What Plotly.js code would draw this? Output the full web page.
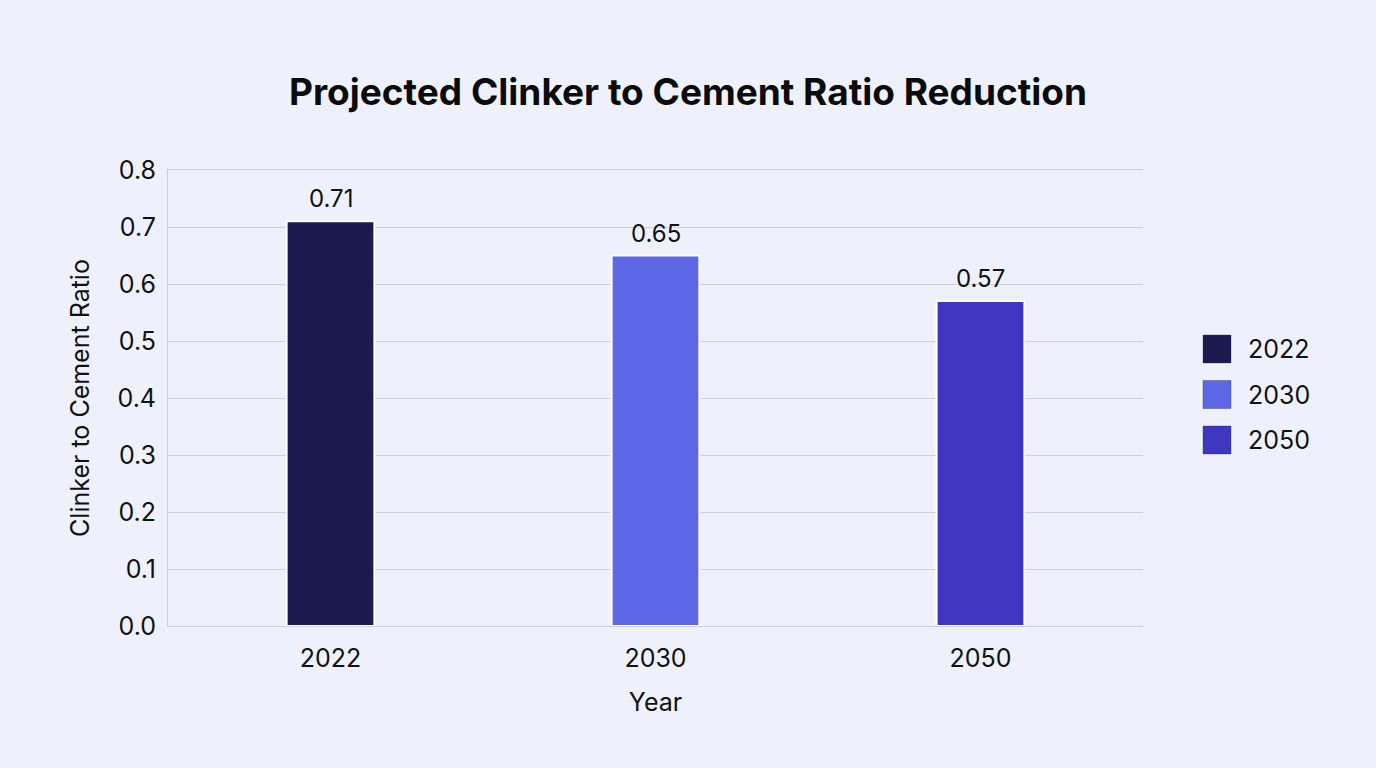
<!DOCTYPE html>
<html>
<head>
<meta charset="utf-8">
<script src="https://cdn.plot.ly/plotly-3.0.1.min.js"></script>
<style>
  html, body { margin: 0; padding: 0; background: #eef1fb; }
  #chart { width: 1376px; height: 768px; }
</style>
</head>
<body>
<div id="chart"></div>
<script>
// Clinker-to-cement ratio by year
const years = ['2022', '2030', '2050'];
const ratios = [0.71, 0.65, 0.57];
const barColors = ['#1c1b50', '#5e67e6', '#4136c2'];

const font = 'Inter, "Noto Sans", Roboto, sans-serif';
const W = 1376, H = 768;
const lineColor = '#cdd1dd';

const traces = years.map((yr, i) => ({
  type: 'bar',
  name: yr,
  x: [yr],
  y: [ratios[i]],
  width: 0.27,
  marker: { color: barColors[i], line: { color: '#ffffff', width: 2 } },
  showlegend: false,
  hoverinfo: 'x+y'
}));

// Value labels above each bar (category index positions)
const valueLabels = years.map((yr, i) => ({
  x: i, y: ratios[i], xref: 'x', yref: 'y',
  text: ratios[i].toFixed(2),
  showarrow: false,
  yanchor: 'bottom',
  yshift: 6,
  font: { size: 24, color: '#111111', family: font }
}));

const layout = {
  width: W,
  height: H,
  paper_bgcolor: '#eef1fb',
  plot_bgcolor: '#eef1fb',
  barmode: 'overlay',
  font: { family: font, color: '#111111' },
  title: {
    text: '<b>Projected Clinker to Cement Ratio Reduction</b>',
    x: 0.5, xanchor: 'center',
    y: 0.88, yanchor: 'middle',
    font: { size: 37, family: font, color: '#0b0b0b' }
  },
  margin: { l: 168, r: 233, t: 170, b: 142 },
  xaxis: {
    type: 'category',
    categoryorder: 'array',
    categoryarray: years,
    range: [-0.5, 2.5],
    autorange: false,
    title: { text: 'Year', font: { size: 25 }, standoff: 21 },
    tickfont: { size: 25 },
    ticks: '',
    ticklabelstandoff: 10,
    showline: true,
    mirror: true,
    linecolor: lineColor,
    linewidth: 1,
    showgrid: false,
    zeroline: false
  },
  yaxis: {
    range: [0, 0.8],
    autorange: false,
    dtick: 0.1,
    tickformat: '.1f',
    title: { text: 'Clinker to Cement Ratio', font: { size: 25 }, standoff: 20 },
    tickfont: { size: 25 },
    ticklabelstandoff: 6,
    showgrid: true,
    gridcolor: lineColor,
    gridwidth: 1,
    zeroline: false,
    showline: true,
    linecolor: lineColor,
    linewidth: 1,
    ticks: ''
  },
  showlegend: false,
  annotations: valueLabels,
  shapes: []
};

// Legend: large colour squares with year labels, placed in paper coordinates
const legX = 1203, legY0 = 349, legStep = 45.5, sw = 28;
const pw = W - layout.margin.l - layout.margin.r;
const ph = H - layout.margin.t - layout.margin.b;
const toPX = px => (px - layout.margin.l) / pw;
const toPY = py => (H - layout.margin.b - py) / ph;
years.forEach((yr, i) => {
  const cy = legY0 + i * legStep;
  layout.shapes.push({
    type: 'rect', xref: 'paper', yref: 'paper',
    x0: toPX(legX), x1: toPX(legX + sw),
    y0: toPY(cy + sw / 2), y1: toPY(cy - sw / 2),
    fillcolor: barColors[i],
    line: { color: 'rgba(40,40,80,0.35)', width: 1 }
  });
  layout.annotations.push({
    xref: 'paper', yref: 'paper',
    x: toPX(legX + sw + 15), y: toPY(cy),
    xanchor: 'left', yanchor: 'middle',
    text: yr, showarrow: false,
    font: { size: 25, color: '#111111', family: font }
  });
});

Plotly.newPlot('chart', traces, layout, { displayModeBar: false, staticPlot: true });
</script>
</body>
</html>
